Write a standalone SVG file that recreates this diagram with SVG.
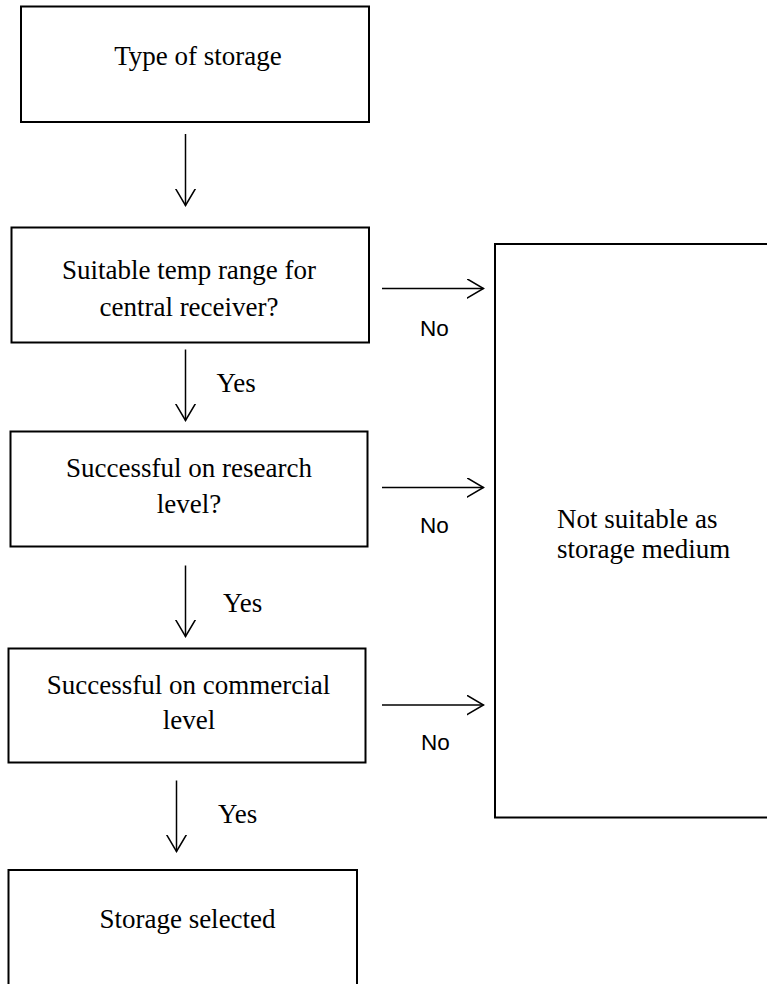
<svg xmlns="http://www.w3.org/2000/svg" width="767" height="984" viewBox="0 0 767 984">
<style>
.box{fill:#fff;stroke:#000;stroke-width:2}
.t{font-family:"Liberation Serif","Times New Roman",serif;font-size:27px;fill:#000}
.c{text-anchor:middle}
.lbl{font-family:"Liberation Sans",Arial,sans-serif;font-size:22.5px;fill:#000}
.ln{fill:none;stroke:#000;stroke-width:1.5}
</style>
<defs>
<marker id="ah" markerWidth="20" markerHeight="24" refX="17" refY="10" orient="auto" markerUnits="userSpaceOnUse">
<path d="M0,0 L17,10 L0,20" fill="none" stroke="#000" stroke-width="1.5"/>
</marker>
</defs>
<rect width="767" height="984" fill="#fff"/>
<g id="n1">
<rect class="box" x="21" y="6.5" width="348" height="115.5"/>
<text class="t c" x="198" y="65">Type of storage</text>
</g>
<g id="n2">
<rect class="box" x="11.5" y="227.5" width="357.5" height="115"/>
<text class="t c" x="189" y="279">Suitable temp range for</text>
<text class="t c" x="189" y="315.5">central receiver?</text>
</g>
<g id="n3">
<rect class="box" x="10.5" y="431.5" width="357" height="115"/>
<text class="t c" x="189" y="476.5">Successful on research</text>
<text class="t c" x="189" y="513">level?</text>
</g>
<g id="n4">
<rect class="box" x="8.5" y="648.5" width="357" height="114"/>
<text class="t c" x="188.5" y="694">Successful on commercial</text>
<text class="t c" x="189" y="729">level</text>
</g>
<g id="n5">
<rect class="box" x="8.5" y="870" width="348.5" height="130"/>
<text class="t c" x="187.5" y="928">Storage selected</text>
</g>
<g id="n6">
<rect class="box" x="495" y="244" width="290" height="573.5"/>
<text class="t" x="557" y="528">Not suitable as</text>
<text class="t" x="557" y="558">storage medium</text>
</g>
<g id="connectors">
<line class="ln" x1="185.5" y1="134" x2="185.5" y2="205.5" marker-end="url(#ah)"/>
<line class="ln" x1="185.5" y1="349.5" x2="185.5" y2="420.5" marker-end="url(#ah)"/>
<line class="ln" x1="185.5" y1="565.5" x2="185.5" y2="636.5" marker-end="url(#ah)"/>
<line class="ln" x1="176.5" y1="780.5" x2="176.5" y2="851.5" marker-end="url(#ah)"/>
<line class="ln" x1="382" y1="288.5" x2="483.5" y2="288.5" marker-end="url(#ah)"/>
<line class="ln" x1="382" y1="487.5" x2="483.5" y2="487.5" marker-end="url(#ah)"/>
<line class="ln" x1="382" y1="705" x2="483.5" y2="705" marker-end="url(#ah)"/>
<text class="t" x="216.5" y="391.5">Yes</text>
<text class="t" x="223" y="611.5">Yes</text>
<text class="t" x="218" y="823">Yes</text>
<text class="lbl" x="420" y="335.5">No</text>
<text class="lbl" x="420" y="532.5">No</text>
<text class="lbl" x="421" y="750">No</text>
</g>
</svg>
